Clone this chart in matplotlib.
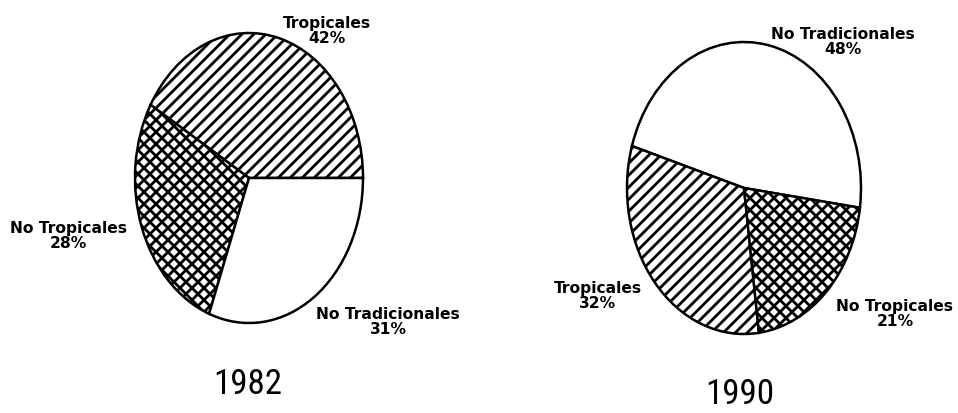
import matplotlib.pyplot as plt

# shares (percent)
labels_1982 = ["Tropicales", "No Tropicales", "No Tradicionales"]
values_1982 = [42, 28, 31]
hatches_1982 = ["//", "xx", ""]

labels_1990 = ["No Tradicionales", "Tropicales", "No Tropicales"]
values_1990 = [48, 32, 21]
hatches_1990 = ["", "//", "xx"]

years = ["1982", "1990"]

plt.rcParams["hatch.linewidth"] = 2.8
plt.rcParams["hatch.color"] = "black"

DPI = 72
fig = plt.figure(figsize=(958 / DPI, 413 / DPI), dpi=DPI)
fig.patch.set_facecolor("white")


def draw_pie(rect, values, hatches, start):
    ax = fig.add_axes(rect)
    wedges, _ = ax.pie(values, startangle=start, counterclock=True,
                       colors=["white"] * len(values),
                       wedgeprops=dict(edgecolor="black", linewidth=2.5))
    for w, h in zip(wedges, hatches):
        w.set_hatch(h)
        w.set_clip_on(False)
    ax.set_aspect("auto")
    ax.set_xlim(-1, 1)
    ax.set_ylim(-1, 1)
    ax.axis("off")
    return ax


draw_pie([135 / 958, 90 / 413, 228 / 958, 290 / 413], values_1982, hatches_1982, 0)
draw_pie([627 / 958, 79 / 413, 234 / 958, 292 / 413], values_1990, hatches_1990, -7.8)

lab_font = dict(family="DejaVu Sans", fontweight="bold", fontsize=15.5,
                ha="center", va="center", linespacing=1.0)


def label(x, y, name, val):
    fig.text(x / 958, 1 - y / 413, f"{name}\n{val}%", **lab_font)


# 1982 labels
label(327, 31, labels_1982[0], values_1982[0])
label(68, 236, labels_1982[1], values_1982[1])
label(388, 322, labels_1982[2], values_1982[2])

# 1990 labels
label(843, 42, labels_1990[0], values_1990[0])
label(598, 296, labels_1990[1], values_1990[1])
label(895, 314, labels_1990[2], values_1990[2])

year_font = dict(family=["Liberation Sans Narrow", "Roboto Condensed",
                         "Open Sans Condensed", "DejaVu Sans"],
                 fontsize=35, ha="center", va="center")
fig.text(248 / 958, 1 - 385 / 413, years[0], **year_font)
fig.text(740 / 958, 1 - 395 / 413, years[1], **year_font)

fig.savefig("out.png", dpi=DPI, facecolor="white")
